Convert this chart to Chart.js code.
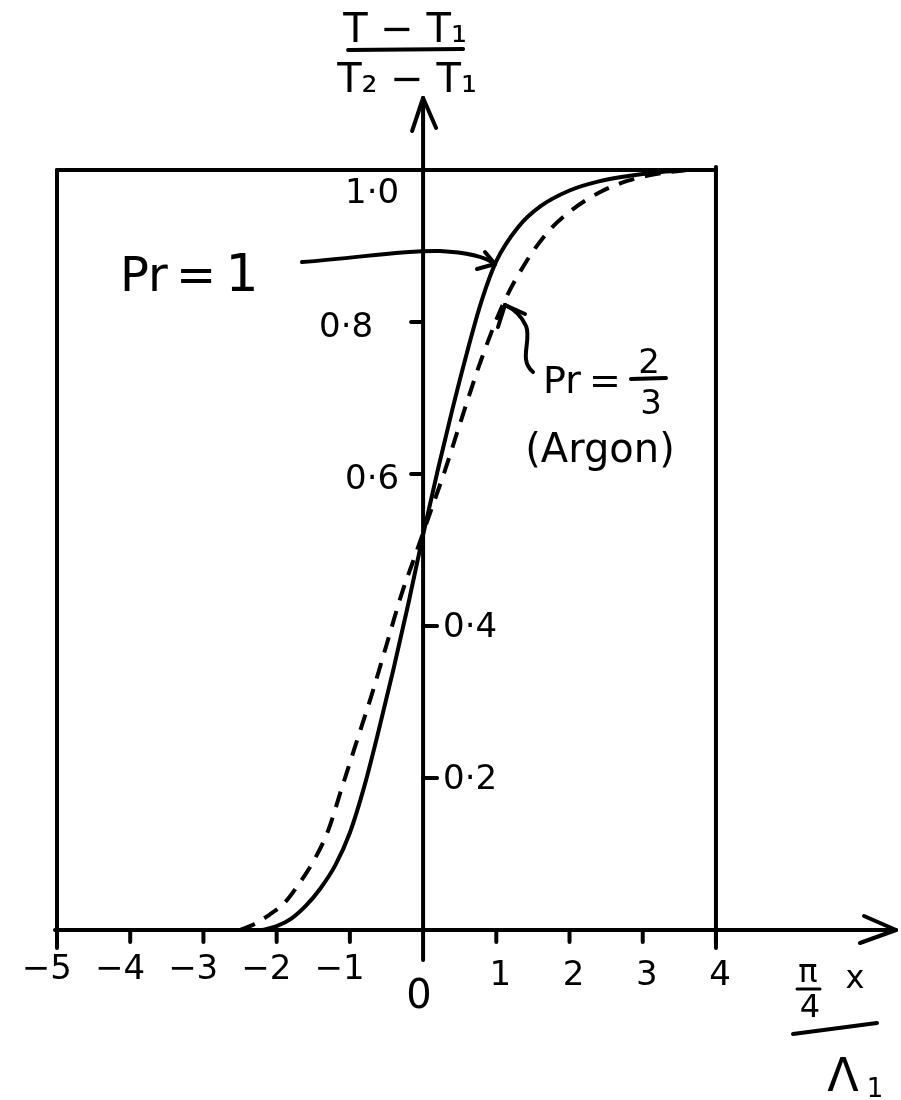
<!DOCTYPE html>
<html>
<head>
<meta charset="utf-8">
<title>Temperature profile</title>
<script src="https://cdn.jsdelivr.net/npm/chart.js@4.4.1/dist/chart.umd.min.js"></script>
<style>
    body { margin: 0; background: #ffffff; }
    #wrap { width: 901px; height: 1100px; position: relative; }
</style>
</head>
<body>
<div id="wrap"><canvas id="profileChart"></canvas></div>
<script>
// x in units of (pi/4)x / Lambda_1, y = (T - T1)/(T2 - T1)
const prOneX = [-2.2, -2.0, -1.8, -1.6, -1.4, -1.2, -1.0, -0.8, -0.6, -0.4, -0.2, 0, 0.2, 0.4, 0.6, 0.8, 1.0, 1.3, 1.6, 2.0, 2.4, 2.8, 3.2, 3.6];
const prOneY = [0, 0.005, 0.015, 0.032, 0.055, 0.085, 0.128, 0.19, 0.265, 0.345, 0.43, 0.52, 0.605, 0.685, 0.76, 0.828, 0.88, 0.925, 0.952, 0.973, 0.985, 0.992, 0.997, 1.0];

const argonX = [-2.5, -2.3, -2.1, -1.9, -1.7, -1.5, -1.3, -1.1, -0.9, -0.7, -0.5, -0.3, -0.1, 0.1, 0.3, 0.5, 0.8, 1.1, 1.4, 1.7, 2.0, 2.4, 2.8, 3.2, 3.6];
const argonY = [0, 0.008, 0.02, 0.035, 0.06, 0.09, 0.13, 0.19, 0.25, 0.31, 0.375, 0.44, 0.495, 0.55, 0.605, 0.665, 0.752, 0.825, 0.878, 0.918, 0.945, 0.97, 0.986, 0.995, 1.0];

const xTicks = [-5, -4, -3, -2, -1, 0, 1, 2, 3, 4];
const xTickLabels = ['\u22125', '\u22124', '\u22123', '\u22122', '\u22121', '0', '1', '2', '3', '4'];
const yTicks = [0.2, 0.4, 0.6, 0.8, 1.0];
const yTickLabels = ['0\u00b72', '0\u00b74', '0\u00b76', '0\u00b78', '1\u00b70'];

document.addEventListener('DOMContentLoaded', function() {
    const ctx = document.getElementById('profileChart');
    const FONT = '"DejaVu Sans", sans-serif';

    function toPoints(xs, ys) {
        return xs.map((x, i) => ({ x: x, y: ys[i] }));
    }

    function line(c, x1, y1, x2, y2) {
        c.beginPath();
        c.moveTo(x1, y1);
        c.lineTo(x2, y2);
        c.stroke();
    }

    // hand drawn look: axes, box, labels and the two annotations
    const sketchPlugin = {
        id: 'sketch',
        afterDatasetsDraw(chart) {
            const c = chart.ctx;
            const xs = chart.scales.x;
            const ys = chart.scales.y;
            const ox = xs.getPixelForValue(0);
            const oy = ys.getPixelForValue(0);
            const left = xs.getPixelForValue(-5);
            const right = xs.getPixelForValue(4);
            const top = ys.getPixelForValue(1.0);

            c.save();
            c.strokeStyle = '#000';
            c.fillStyle = '#000';
            c.lineWidth = 4;
            c.lineCap = 'round';
            c.lineJoin = 'round';

            // box
            line(c, left, top, right, top);
            line(c, left, top, left, oy + 18);
            line(c, right, top - 3, right, oy + 18);

            // x axis with arrow
            const xEnd = chart.chartArea.right - 3;
            line(c, left - 2, oy, xEnd, oy);
            line(c, xEnd, oy, xEnd - 32, oy - 14);
            line(c, xEnd, oy, xEnd - 36, oy + 13);

            // y axis with arrow
            const yEnd = chart.chartArea.top + 4;
            line(c, ox, oy + 30, ox, yEnd);
            line(c, ox, yEnd, ox - 11, yEnd + 33);
            line(c, ox, yEnd, ox + 13, yEnd + 30);

            // x ticks and labels
            c.font = '34px ' + FONT;
            c.textBaseline = 'middle';
            xTicks.forEach((v, i) => {
                const px = xs.getPixelForValue(v);
                if (v !== 0) line(c, px, oy, px, oy + 12);
                const txt = xTickLabels[i];
                if (v === 0) {
                    c.font = '40px ' + FONT;
                    c.textAlign = 'center';
                    c.fillText(txt, px - 4, oy + 68);
                    c.font = '34px ' + FONT;
                    return;
                }
                const digitW = c.measureText(txt.slice(-1)).width;
                c.textAlign = 'right';
                c.fillText(txt, px + digitW / 2 + 4, oy + (v < 0 ? 40 : 46));
            });

            // y ticks and labels, upper ones left of the axis, lower ones right
            c.font = '34px ' + FONT;
            yTicks.forEach((v, i) => {
                const py = ys.getPixelForValue(v);
                const txt = yTickLabels[i];
                if (v >= 0.6) {
                    if (v < 1.0) line(c, ox - 12, py, ox, py);
                    c.textAlign = 'right';
                    c.fillText(txt, ox - (v === 0.8 ? 50 : 24), py + (v === 1.0 ? 24 : 6));
                } else {
                    line(c, ox, py, ox + 14, py);
                    c.textAlign = 'left';
                    c.fillText(txt, ox + 20, py + 2);
                }
            });

            // y axis title (fraction)
            c.font = '40px ' + FONT;
            c.textAlign = 'center';
            c.textBaseline = 'alphabetic';
            c.fillText('T \u2212 T\u2081', ox - 18, 42);
            line(c, ox - 75, 50, ox + 40, 49);
            c.fillText('T\u2082 \u2212 T\u2081', ox - 16, 92);

            // x axis title: (pi/4) x over Lambda_1
            c.font = '32px ' + FONT;
            c.fillText('\u03c0', 808, 982);
            c.fillText('x', 855, 988);
            c.lineWidth = 3;
            line(c, 797, 989, 820, 989);
            c.fillText('4', 810, 1017);
            c.lineWidth = 4;
            line(c, 793, 1034, 877, 1023);
            c.font = '46px ' + FONT;
            c.fillText('\u039b', 843, 1091);
            c.font = '26px ' + FONT;
            c.fillText('1', 875, 1097);

            // "Pr = 1" label and its arrow
            c.font = '48px ' + FONT;
            c.textAlign = 'left';
            c.fillText('Pr', 120, 291);
            c.textAlign = 'center';
            c.fillText('=', 196, 291);
            c.font = '52px ' + FONT;
            c.fillText('1', 242, 291);
            c.beginPath();
            c.moveTo(302, 262);
            c.bezierCurveTo(360, 258, 400, 250, 440, 251);
            c.quadraticCurveTo(480, 253, 495, 264);
            c.stroke();
            line(c, 495, 264, 477, 269);
            line(c, 495, 264, 485, 252);

            // "Pr = 2/3 (Argon)" label and its arrow
            c.font = '38px ' + FONT;
            c.textAlign = 'left';
            c.fillText('Pr', 543, 393);
            c.textAlign = 'center';
            c.fillText('=', 605, 393);
            c.font = '34px ' + FONT;
            c.fillText('2', 649, 373);
            line(c, 631, 379, 666, 378);
            c.fillText('3', 651, 414);
            c.font = '40px ' + FONT;
            c.fillText('(Argon)', 600, 462);
            c.beginPath();
            c.moveTo(533, 372);
            c.bezierCurveTo(518, 360, 532, 340, 526, 326);
            c.quadraticCurveTo(520, 312, 505, 305);
            c.stroke();
            line(c, 505, 305, 498, 327);
            line(c, 505, 305, 525, 314);

            c.restore();
        }
    };

    new Chart(ctx, {
        type: 'scatter',
        data: {
            datasets: [
                {
                    label: 'Pr = 1',
                    data: toPoints(prOneX, prOneY),
                    showLine: true,
                    borderColor: '#000',
                    borderWidth: 4,
                    pointRadius: 0,
                    cubicInterpolationMode: 'monotone',
                    clip: false
                },
                {
                    label: 'Pr = 2/3 (Argon)',
                    data: toPoints(argonX, argonY),
                    showLine: true,
                    borderColor: '#000',
                    borderWidth: 4,
                    borderDash: [16, 11],
                    pointRadius: 0,
                    cubicInterpolationMode: 'monotone',
                    clip: false
                }
            ]
        },
        options: {
            responsive: true,
            maintainAspectRatio: false,
            animation: false,
            layout: {
                padding: { left: 57, right: 2, top: 94, bottom: 170 }
            },
            plugins: {
                legend: { display: false },
                tooltip: { enabled: false }
            },
            scales: {
                x: { type: 'linear', min: -5, max: 6.5, display: false },
                y: { type: 'linear', min: 0, max: 1.1, display: false }
            }
        },
        plugins: [sketchPlugin]
    });
});
</script>
</body>
</html>
